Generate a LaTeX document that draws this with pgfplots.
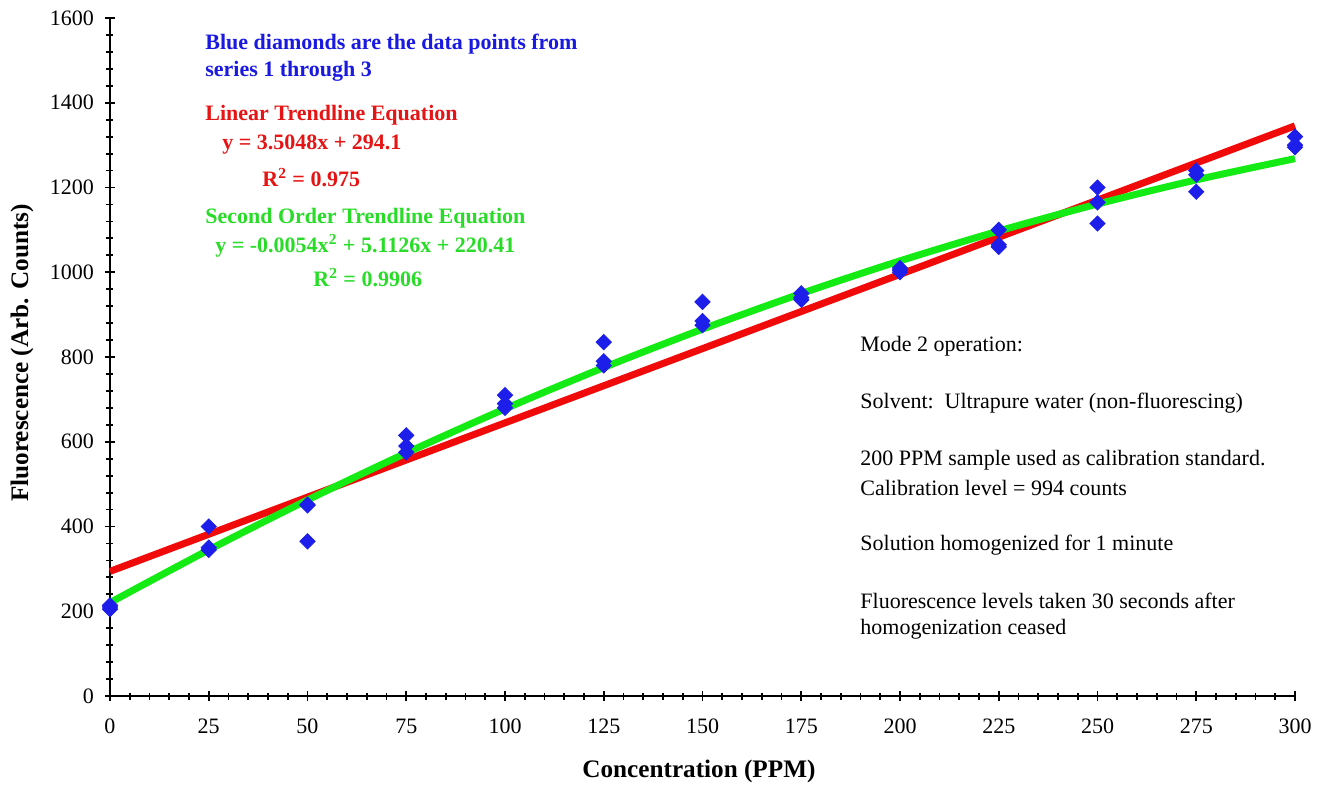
\documentclass[border=0pt]{standalone}
\usepackage{fontspec}
\setmainfont{Liberation Serif}
\usepackage{pgfplots}
\pgfplotsset{compat=1.18}
\definecolor{dblue}{RGB}{25,25,225}
\definecolor{tred}{RGB}{230,20,20}
\definecolor{tgreen}{RGB}{40,220,40}
\definecolor{lred}{RGB}{240,10,10}
\definecolor{lgreen}{RGB}{20,235,20}
\definecolor{mblue}{RGB}{30,30,235}
\begin{document}
\begin{tikzpicture}
\path[use as bounding box] (-55pt,-44pt) rectangle (609pt,348pt);
\begin{axis}[
  at={(0,0)}, anchor=south west,
  width=592.5pt, height=339pt, scale only axis,
  xmin=0, xmax=300, ymin=0, ymax=1600,
  axis lines=left, axis line style={-, line width=1pt},
  xtick={0,25,...,300}, ytick={0,200,...,1600},
  minor x tick num=4, minor y tick num=4,
  tick align=center, major tick length=5pt, minor tick length=3.5pt,
  every tick/.style={black, line width=0.9pt},
  tick label style={font=\fontsize{11}{13}\selectfont},
  /pgf/number format/assume math mode=true,
  /pgf/number format/1000 sep={},
  xticklabel style={yshift=-5.5pt},
  yticklabel style={xshift=-2pt},
  clip=false,
  xlabel={\textbf{Concentration (PPM)}},
  ylabel={\textbf{Fluorescence (Arb. Counts)}},
  label style={font=\fontsize{12.6}{14}\selectfont},
  xlabel style={at={(axis description cs:0.497,0)}, anchor=center, yshift=-37.5pt},
  ylabel style={at={(axis description cs:0,0.506)}, anchor=center, yshift=44pt},
]
\addplot[only marks, mark=square*, mark size=2.7pt, mark options={rotate=45, mblue, draw=mblue}] coordinates {
 (0,210) (0,205) (0,214)
 (25,400) (25,345) (25,350)
 (50,450) (50,365) (50,452)
 (75,615) (75,590) (75,575)
 (100,710) (100,690) (100,680)
 (125,835) (125,790) (125,780)
 (150,930) (150,885) (150,875)
 (175,950) (175,940) (175,935)
 (200,1010) (200,1000) (200,1005)
 (225,1100) (225,1065) (225,1060)
 (250,1200) (250,1165) (250,1115)
 (275,1240) (275,1230) (275,1190)
 (300,1320) (300,1300) (300,1295)
};
\addplot[lred, line width=3.5pt] coordinates {(0,294.1) (300,1345.5)};
\addplot[lgreen, line width=3.5pt, smooth] coordinates {
 (0,220.41) (25,344.85) (50,462.54) (75,573.48) (100,677.67) (125,775.11)
 (150,865.80) (175,949.74) (200,1026.93) (225,1097.37) (250,1161.06)
 (275,1218.00) (300,1268.19)
};
\end{axis}
\begin{scope}[every node/.style={anchor=west, inner sep=0pt}]
\node[dblue, font=\fontsize{11}{13}\selectfont\bfseries] at (47.5pt,326pt) {Blue diamonds are the data points from};
\node[dblue, font=\fontsize{11}{13}\selectfont\bfseries] at (47.5pt,312.5pt) {series 1 through 3};
\node[tred, font=\fontsize{11}{13}\selectfont\bfseries] at (47.5pt,290.5pt) {Linear Trendline Equation};
\node[tred, font=\fontsize{11}{13}\selectfont\bfseries] at (56pt,275.5pt) {y = 3.5048x + 294.1};
\node[tred, font=\fontsize{11}{13}\selectfont\bfseries] at (76pt,259pt) {R\textsuperscript{2} = 0.975};
\node[tgreen, font=\fontsize{11}{13}\selectfont\bfseries] at (47.5pt,239pt) {Second Order Trendline Equation};
\node[tgreen, font=\fontsize{11}{13}\selectfont\bfseries] at (52.5pt,225pt) {y = -0.0054x\textsuperscript{2} + 5.1126x + 220.41};
\node[tgreen, font=\fontsize{11}{13}\selectfont\bfseries] at (101.5pt,209pt) {R\textsuperscript{2} = 0.9906};
\node[font=\fontsize{11}{13}\selectfont] at (375pt,175pt) {Mode 2 operation:};
\node[font=\fontsize{11}{13}\selectfont] at (375pt,146.5pt) {Solvent:\ \ Ultrapure water (non-fluorescing)};
\node[font=\fontsize{11}{13}\selectfont] at (375pt,118pt) {200 PPM sample used as calibration standard.};
\node[font=\fontsize{11}{13}\selectfont] at (375pt,104pt) {Calibration level = 994 counts};
\node[font=\fontsize{11}{13}\selectfont] at (375pt,75.5pt) {Solution homogenized for 1 minute};
\node[font=\fontsize{11}{13}\selectfont] at (375pt,47.5pt) {Fluorescence levels taken 30 seconds after};
\node[font=\fontsize{11}{13}\selectfont] at (375pt,33.5pt) {homogenization ceased};
\end{scope}
\end{tikzpicture}
\end{document}
